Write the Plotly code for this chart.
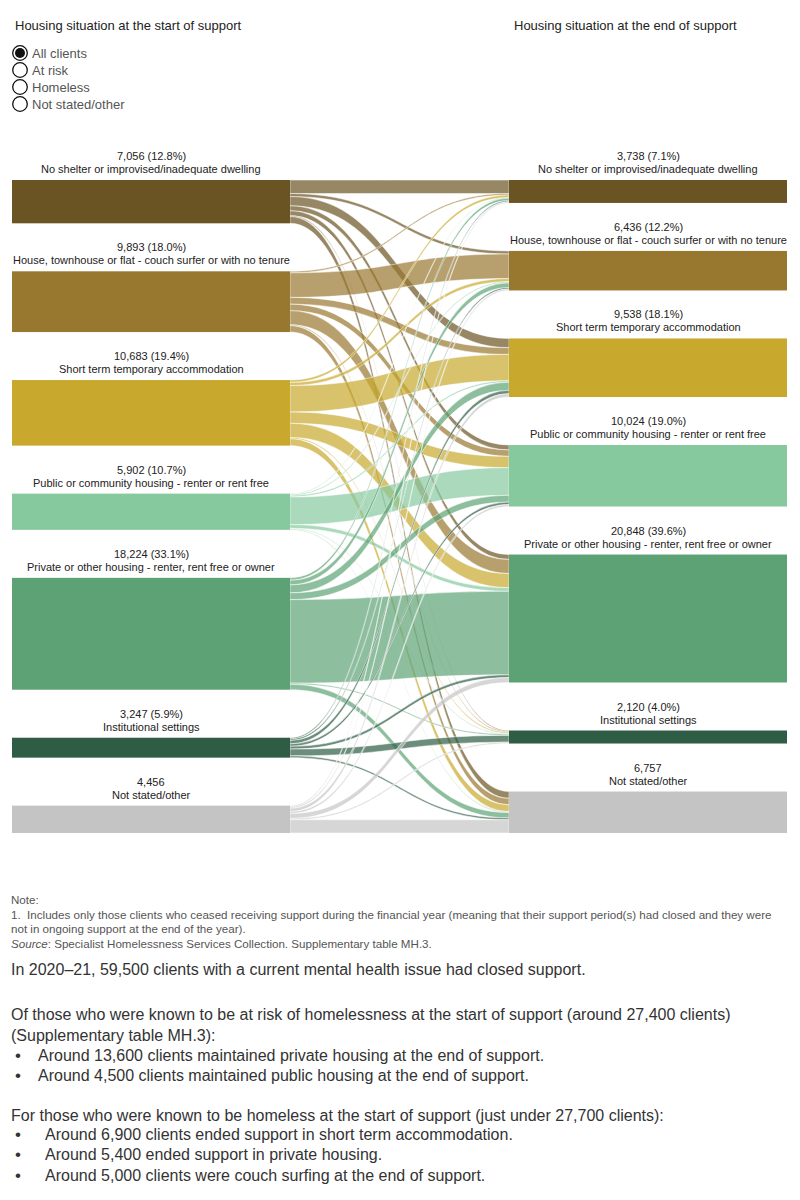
import plotly.graph_objects as go

FIG_W, FIG_H = 800, 1200

# ---------------- data ----------------
categories = [
    "No shelter or improvised/inadequate dwelling",
    "House, townhouse or flat - couch surfer or with no tenure",
    "Short term temporary accommodation",
    "Public or community housing - renter or rent free",
    "Private or other housing - renter, rent free or owner",
    "Institutional settings",
    "Not stated/other",
]
start_totals = [7056, 9893, 10683, 5902, 18224, 3247, 4456]
end_totals = [3738, 6436, 9538, 10024, 20848, 2120, 6757]

# flows from each start situation to the end situations (same order as categories)
flow_no_shelter = [2200, 500, 1500, 800, 800, 150, 1106]
flow_couch_surfer = [250, 4000, 1100, 1050, 2300, 150, 1043]
flow_short_term = [400, 500, 4300, 1850, 2300, 200, 1133]
flow_public = [100, 200, 250, 4500, 600, 100, 152]
flow_private = [400, 750, 1300, 1100, 13600, 200, 874]
flow_institutional = [200, 250, 550, 400, 450, 1100, 297]
flow_not_stated = [188, 236, 538, 324, 798, 220, 2152]

radio_options = ["All clients", "At risk", "Homeless", "Not stated/other"]

node_colors = ["#6b5424", "#98772f", "#c8a92e", "#86c99e", "#5ca275", "#2e5c45", "#c4c4c4"]

flows = [flow_no_shelter, flow_couch_surfer, flow_short_term, flow_public,
         flow_private, flow_institutional, flow_not_stated]

# ---------------- geometry ----------------
SX0, SX1, SY0, SY1 = 12, 787, 180, 833
THICK = 278
PAD = 48
W = SX1 - SX0
H = SY1 - SY0
n = len(categories)
ky = (H - PAD * (n - 1)) / sum(start_totals)


def px_x(x):
    return x / FIG_W


def px_y(y):
    return 1 - y / FIG_H


def column_layout(totals):
    tops, centers = [], []
    acc = 0.0
    for t in totals:
        h = t * ky
        tops.append(acc)
        centers.append((acc + h / 2) / H)
        acc += h + PAD
    return tops, centers


left_tops, left_centers = column_layout(start_totals)
right_tops, right_centers = column_layout(end_totals)


def rgba(hexcol, a):
    hexcol = hexcol.lstrip("#")
    r, g, b = int(hexcol[0:2], 16), int(hexcol[2:4], 16), int(hexcol[4:6], 16)
    return f"rgba({r},{g},{b},{a})"


src, tgt, val, lcol = [], [], [], []
for i, row in enumerate(flows):
    for j, v in enumerate(row):
        src.append(i)
        tgt.append(n + j)
        val.append(v)
        lcol.append(rgba(node_colors[i], 0.7))

node_x = [(THICK / 2) / W] * n + [1 - (THICK / 2) / W] * n
node_y = left_centers + right_centers

fig = go.Figure(go.Sankey(
    domain=dict(x=[px_x(SX0), px_x(SX1)], y=[px_y(SY1), px_y(SY0)]),
    arrangement="fixed",
    valueformat=",d",
    node=dict(
        label=[""] * (2 * n),
        customdata=[f"Start: {c}" for c in categories] + [f"End: {c}" for c in categories],
        hovertemplate="%{customdata}<br>%{value:,}<extra></extra>",
        x=node_x,
        y=node_y,
        pad=PAD,
        thickness=THICK,
        color=node_colors + node_colors,
        line=dict(width=0),
    ),
    link=dict(
        source=src,
        target=tgt,
        value=val,
        color=lcol,
        line=dict(color="white", width=0.5),
    ),
))

LABEL_FONT = dict(family="Liberation Sans, Arial, sans-serif", size=11, color="#222222")
TEXT_FONT = "Liberation Sans, Arial, sans-serif"

annotations = []
start_base = sum(start_totals) - start_totals[-1]
end_base = sum(end_totals) - end_totals[-1]


def node_value_text(value, base, idx):
    if idx == n - 1:
        return f"{value:,}"
    return f"{value:,} ({value / base * 100:.1f}%)"


def add_node_label(cx, top, value_text, name):
    annotations.append(dict(
        x=px_x(cx), y=px_y(top - 24), xref="paper", yref="paper",
        xanchor="center", yanchor="middle", text=value_text,
        showarrow=False, font=LABEL_FONT))
    annotations.append(dict(
        x=px_x(cx), y=px_y(top - 11), xref="paper", yref="paper",
        xanchor="center", yanchor="middle", text=name,
        showarrow=False, font=LABEL_FONT))


for i, c in enumerate(categories):
    add_node_label(SX0 + THICK / 2, SY0 + left_tops[i],
                   node_value_text(start_totals[i], start_base, i), c)
    add_node_label(SX1 - THICK / 2, SY0 + right_tops[i],
                   node_value_text(end_totals[i], end_base, i), c)

# titles
annotations.append(dict(x=px_x(13), y=px_y(25), xref="paper", yref="paper",
                        xanchor="left", yanchor="middle",
                        text="Housing situation at the start of support", showarrow=False,
                        font=dict(family=TEXT_FONT, size=13, color="#222222")))
annotations.append(dict(x=px_x(512), y=px_y(25), xref="paper", yref="paper",
                        xanchor="left", yanchor="middle",
                        text="Housing situation at the end of support", showarrow=False,
                        font=dict(family=TEXT_FONT, size=13, color="#222222")))

# radio buttons
shapes = []
for k, opt in enumerate(radio_options):
    cy = 53 + 17 * k
    shapes.append(dict(type="circle", xref="paper", yref="paper",
                       x0=px_x(12.7), x1=px_x(27.3), y0=px_y(cy + 7.3), y1=px_y(cy - 7.3),
                       line=dict(color="#111111", width=1.3), fillcolor="white"))
    if k == 0:
        shapes.append(dict(type="circle", xref="paper", yref="paper",
                           x0=px_x(15), x1=px_x(25), y0=px_y(cy + 5), y1=px_y(cy - 5),
                           line=dict(width=0), fillcolor="#111111"))
    annotations.append(dict(x=px_x(30), y=px_y(cy), xref="paper", yref="paper",
                            xanchor="left", yanchor="middle", text=opt, showarrow=False,
                            font=dict(family=TEXT_FONT, size=13, color="#555555")))

# notes
NOTE_FONT = dict(family=TEXT_FONT, size=11.6, color="#555555")
note_lines = [
    (899, "Note:"),
    (914, "1.  Includes only those clients who ceased receiving support during the financial year (meaning that their support period(s) had closed and they were"),
    (928, "not in ongoing support at the end of the year)."),
    (943, "<i>Source</i>: Specialist Homelessness Services Collection. Supplementary table MH.3."),
]
for y, t in note_lines:
    annotations.append(dict(x=px_x(9), y=px_y(y), xref="paper", yref="paper",
                            xanchor="left", yanchor="middle", text=t, showarrow=False,
                            font=NOTE_FONT))

BODY_FONT = dict(family=TEXT_FONT, size=16, color="#333333")
body_lines = [
    (969, 9, "In 2020\u201321, 59,500 clients with a current mental health issue had closed support."),
    (1014, 9, "Of those who were known to be at risk of homelessness at the start of support (around 27,400 clients)"),
    (1035, 9, "(Supplementary table MH.3):"),
    (1055, 36, "Around 13,600 clients maintained private housing at the end of support."),
    (1075, 36, "Around 4,500 clients maintained public housing at the end of support."),
    (1115, 9, "For those who were known to be homeless at the start of support (just under 27,700 clients):"),
    (1134, 43, "Around 6,900 clients ended support in short term accommodation."),
    (1154, 43, "Around 5,400 ended support in private housing."),
    (1175, 43, "Around 5,000 clients were couch surfing at the end of support."),
]
for y, x, t in body_lines:
    annotations.append(dict(x=px_x(x), y=px_y(y), xref="paper", yref="paper",
                            xanchor="left", yanchor="middle", text=t, showarrow=False,
                            font=BODY_FONT))
    if x > 20:
        annotations.append(dict(x=px_x(13), y=px_y(y), xref="paper", yref="paper",
                                xanchor="left", yanchor="middle", text="\u2022", showarrow=False,
                                font=dict(family=TEXT_FONT, size=17, color="#333333")))

fig.update_layout(
    width=FIG_W, height=FIG_H,
    margin=dict(l=0, r=0, t=0, b=0),
    paper_bgcolor="white",
    plot_bgcolor="white",
    annotations=annotations,
    shapes=shapes,
    font=dict(family=TEXT_FONT),
)

fig.write_html("out.html")
